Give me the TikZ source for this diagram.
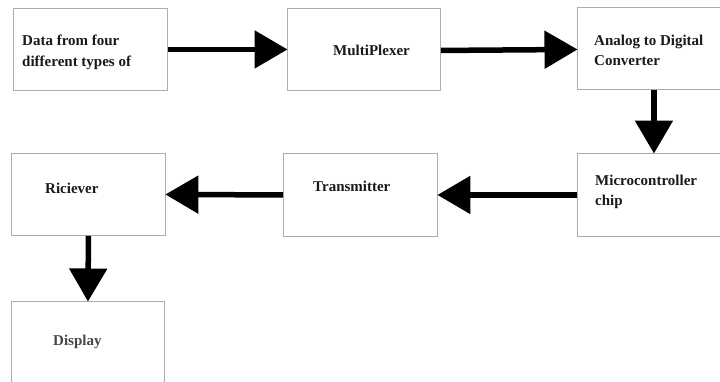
\documentclass[tikz,border=0pt]{standalone}
\usepackage{fontspec}
\setmainfont{Liberation Serif}
\usetikzlibrary{arrows.meta}
\begin{document}
\begin{tikzpicture}[x=1pt,y=-1pt,
  blk/.style={draw=black!32,line width=0.9pt,minimum width=#1,minimum height=82pt,inner sep=0pt,anchor=north west},
  blk/.default=154pt,
  txt/.style={font=\fontsize{15}{20}\selectfont\bfseries,text=black!90,inner sep=0pt,anchor=base west},
  flow/.style={line width=5.5pt,-{Triangle[length=33pt,width=37pt]},shorten >=-0.5pt}]
\useasboundingbox (0,0) rectangle (720,381);
\clip (0,0) rectangle (720,381);
\node[blk=154pt] (src) at (13,8) {};
\node[blk=153pt] (mux) at (287,8) {};
\node[blk=143pt] (adc) at (577,7) {};
\node[blk=143pt,minimum height=83pt] (mcu) at (577,153) {};
\node[blk=154pt,minimum height=83pt] (tx) at (283,153) {};
\node[blk=154pt] (rx) at (11,153) {};
\node[blk=153pt,minimum height=90pt] (disp) at (11,301) {};
\node[txt] (t1a) at (22,45) {Data from four};
\node[txt] (t1b) at (22,66) {different types of};
\node[txt] (t2) at (333,55) {MultiPlexer};
\node[txt] (t3a) at (594,45) {Analog to Digital};
\node[txt] (t3b) at (594,65) {Converter};
\node[txt] (t4a) at (595,185) {Microcontroller};
\node[txt] (t4b) at (595,205) {chip};
\node[txt] (t5) at (313,191) {Transmitter};
\node[txt] (t6) at (45,193) {Riciever};
\node[txt,text=black!72] (t7) at (53,345) {Display};
\draw[flow] (src.east) -- (mux.west);
\draw[flow] ([yshift=-1pt]mux.east) -- ([yshift=-1pt]adc.west);
\draw[flow] ([xshift=5pt]adc.south) -- ([xshift=5pt]mcu.north);
\draw[flow] (mcu.west) -- (tx.east);
\draw[flow] (tx.west) -- (rx.east);
\draw[flow] (rx.south) -- (disp.north);
\end{tikzpicture}
\end{document}
